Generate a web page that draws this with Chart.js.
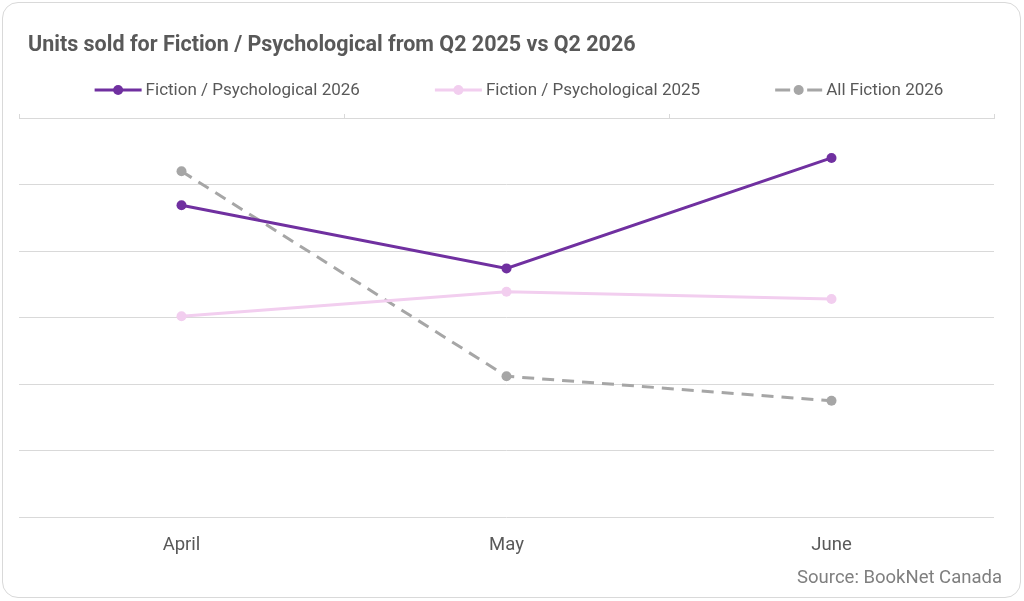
<!DOCTYPE html>
<html>
<head>
<meta charset="utf-8">
<script src="https://cdn.jsdelivr.net/npm/chart.js@4.4.1/dist/chart.umd.min.js"></script>
<style>
  html, body { margin: 0; padding: 0; background: #fff; }
  #card { position: absolute; left: 2px; top: 2px; width: 1019px; height: 596px; border: 1px solid #d9d9d9; border-radius: 16px; box-sizing: border-box; }
  #wrap { position: absolute; left: 0; top: 0; width: 1024px; height: 601px; }
</style>
</head>
<body>
<div id="card"></div>
<div id="wrap"><canvas id="myChart"></canvas></div>
<script>
/*
    Values. The y axis has no labels, so units are an estimate
    on a 0..600 scale with gridlines every 100.
*/
const months = ["April", "May", "June"];
const psych2026 = [469, 374, 540];
const psych2025 = [302, 339, 328];
const fiction2026 = [520, 212, 175];
const seriesNames = ["Fiction / Psychological 2026", "Fiction / Psychological 2025", "All Fiction 2026"];

const titleText = "Units sold for Fiction / Psychological from Q2 2025 vs Q2 2026";
const sourceText = "Source: BookNet Canada";
const FONT = "Roboto";
const TEXT = "#595959";
const GRID = "#d9d9d9";

// Title, legend (line + dot) and source note are drawn here so they sit where the original has them.
const extras = {
    id: "extras",
    afterDraw(chart) {
        const ctx = chart.ctx;
        ctx.save();
        ctx.textBaseline = "middle";
        ctx.textAlign = "left";
        ctx.fillStyle = TEXT;
        ctx.font = "bold 21.5px " + FONT;
        ctx.fillText(titleText, 28, 46);

        ctx.font = "17px " + FONT;
        const markW = 47, textGap = 4, itemGap = 75, y = 90;
        const items = chart.data.datasets.map(ds => ({
            text: ds.label,
            color: ds.borderColor,
            dashed: !!ds.borderDash,
            w: ctx.measureText(ds.label).width
        }));
        const total = items.reduce((s, it) => s + markW + textGap + it.w, 0) + itemGap * (items.length - 1);
        let x = 519 - total / 2;
        items.forEach(it => {
            ctx.strokeStyle = it.color;
            ctx.fillStyle = it.color;
            ctx.lineWidth = 3;
            ctx.lineCap = "butt";
            ctx.beginPath();
            if (it.dashed) {
                ctx.moveTo(x, y); ctx.lineTo(x + 15, y);
                ctx.moveTo(x + markW - 15, y); ctx.lineTo(x + markW, y);
            } else {
                ctx.moveTo(x, y); ctx.lineTo(x + markW, y);
            }
            ctx.stroke();
            ctx.beginPath();
            ctx.arc(x + markW / 2, y, 5, 0, Math.PI * 2);
            ctx.fill();
            ctx.fillStyle = TEXT;
            ctx.fillText(it.text, x + markW + textGap, y + 1);
            x += markW + textGap + it.w + itemGap;
        });

        ctx.font = "18.5px " + FONT;
        ctx.fillStyle = "#7f7f7f";
        ctx.textAlign = "right";
        ctx.fillText(sourceText, 1002, 578);
        ctx.restore();
    }
};

const data = {
    labels: months,
    datasets: [
        {
            label: seriesNames[0],
            data: psych2026,
            borderColor: "#7030A0",
            backgroundColor: "#7030A0",
            pointBackgroundColor: "#7030A0",
            borderWidth: 3,
            pointRadius: 5,
            pointBorderWidth: 0
        },
        {
            label: seriesNames[1],
            data: psych2025,
            borderColor: "#F2CEEF",
            backgroundColor: "#F2CEEF",
            pointBackgroundColor: "#F2CEEF",
            borderWidth: 3,
            pointRadius: 5,
            pointBorderWidth: 0
        },
        {
            label: seriesNames[2],
            data: fiction2026,
            borderColor: "#A6A6A6",
            backgroundColor: "#A6A6A6",
            pointBackgroundColor: "#A6A6A6",
            borderWidth: 3,
            borderDash: [12, 8],
            pointRadius: 5,
            pointBorderWidth: 0
        }
    ]
};

const config = {
    type: "line",
    data: data,
    plugins: [extras],
    options: {
        responsive: true,
        maintainAspectRatio: false,
        animation: false,
        layout: { padding: { left: 19, right: 30, top: 114, bottom: 35.5 } },
        plugins: {
            legend: { display: false },
            title: { display: false },
            tooltip: { enabled: false }
        },
        scales: {
            x: {
                offset: true,
                grid: { display: false },
                border: { display: false },
                ticks: { color: TEXT, padding: 9, font: { family: FONT, size: 18.5 } }
            },
            xTop: {
                type: "category",
                position: "top",
                offset: true,
                grid: { offset: true, drawOnChartArea: false, tickLength: 4, color: GRID },
                border: { color: GRID },
                ticks: { display: false }
            },
            y: {
                min: 0,
                max: 600,
                ticks: { display: false, stepSize: 100 },
                grid: { color: GRID, drawTicks: false },
                border: { display: false }
            }
        }
    }
};

new Chart(document.getElementById("myChart").getContext("2d"), config);
</script>
</body>
</html>
